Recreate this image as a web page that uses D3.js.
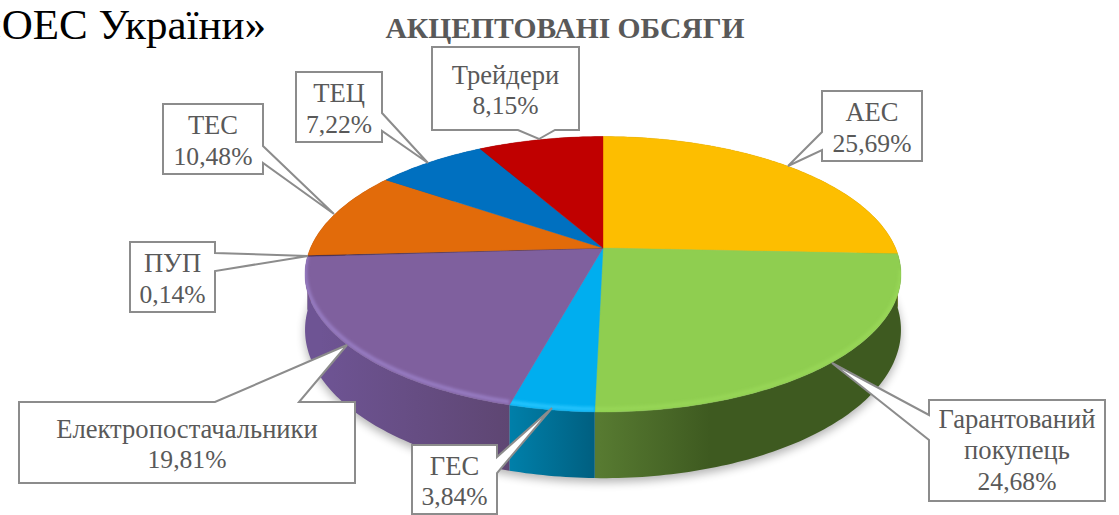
<!DOCTYPE html>
<html><head><meta charset="utf-8">
<script src="https://cdn.jsdelivr.net/npm/d3@7"></script>
<style>html,body{margin:0;padding:0;background:#fff;overflow:hidden}svg{display:block}text{font-family:"Liberation Serif",serif}</style>
</head><body><svg id="c" width="1119" height="515"></svg>
<script>
const categories = ["АЕС","Гарантований покупець","ГЕС","Електропостачальники","ПУП","ТЕС","ТЕЦ","Трейдери"];
const shares = [25.69,24.68,3.84,19.81,0.14,10.48,7.22,8.15];
const valueLabels = ["25,69%","24,68%","3,84%","19,81%","0,14%","10,48%","7,22%","8,15%"];
const labelLines = [["АЕС"],["Гарантований","покупець"],["ГЕС"],["Електропостачальники"],["ПУП"],["ТЕС"],["ТЕЦ"],["Трейдери"]];
const topColors = ["#FDBE00","#8FCE50","#00AEEF","#7F609E","#3b2a55","#E26B0A","#0070C0","#C00000"];
const wallStops = [["#a67c00","#a67c00"],["#577a31","#3e5a20"],["#007fa9","#005f80"],["#5e4672","#6e5494"],["#3b2a55","#3b2a55"],["#8a4106","#8a4106"],["#004a80","#004a80"],["#7a0000","#7a0000"]];
const rimColors = ["#ffd040","#a2e160","#28c6ff","#9a80c6",null,null,null,null];
const rimOpacity = [1,0.45,0.9,0.9,0,0,0,0];
const wallX = [[600,900],[600,710],[511,595],[511,320],[300,310],[300,400],[400,500],[500,600]];
const wallOrder = [7,6,5,4,0,1,2,3];
// callout layout: box [x0,y0,x1,y1], side of the pointer, neck a,b, tip
const callouts = [
 {box:[822,91,922,161],side:"left",neck:[150,132],tip:[788,166]},
 {box:[929,400,1105,501],side:"left",neck:[440,415],tip:[832,363]},
 {box:[412,445,497,514],side:"right",neck:[457,473],tip:[552,408]},
 {box:[19,402,355,483],side:"top",neck:[215,299],tip:[347,345]},
 {box:[130,242,215,312],side:"right",neck:[253,271],tip:[308,256]},
 {box:[163,104,263,174],side:"right",neck:[146,163],tip:[334,214]},
 {box:[296,72,382,142],side:"right",neck:[113,131],tip:[428,163]},
 {box:[432,47,579,130],side:"bottom",neck:[555,518],tip:[539,139]}
];

const svg = d3.select("#c");
const defs = svg.append("defs");
const persp = 0.1906, depth = 53.6;
const xS = d3.scaleLinear().domain([-1,1]).range([603-292.5,603+292.5]);
const yS = d3.scaleLinear().domain([0,1]).range([248,248+132.7]);
const proj = (ang,r,drop=0)=>{
  const u=r*Math.sin(ang), v=-r*Math.cos(ang), p=1/(1-persp*v);
  return [xS(u*p), yS(v*p)+drop*p];
};
const line = d3.line();
const arcs = d3.pie().sort(null).startAngle(0).endAngle(2*Math.PI)(shares);
const rim = (a,drop=0)=>{
  const n=Math.max(2,Math.ceil((a.endAngle-a.startAngle)*60));
  return d3.range(n+1).map(i=>proj(a.startAngle+(a.endAngle-a.startAngle)*i/n,1,drop));
};
defs.append("filter").attr("id","sh").attr("x","-10%").attr("y","-10%").attr("width","120%").attr("height","130%")
  .append("feGaussianBlur").attr("stdDeviation",5);
defs.append("filter").attr("id","bv").attr("filterUnits","userSpaceOnUse").attr("x",0).attr("y",0).attr("width",1119).attr("height",515)
  .append("feGaussianBlur").attr("stdDeviation",1.5);

// soft shadow below the disc
const full = {startAngle:0,endAngle:2*Math.PI};
svg.append("path").attr("d",line(rim(full,depth))+"Z").attr("fill","#000").attr("opacity",.3)
  .attr("transform","translate(0,4)").attr("filter","url(#sh)");

const g = svg.append("g");
// walls
wallOrder.forEach(i=>{
  const a=arcs[i], id="w"+i;
  const gr=defs.append("linearGradient").attr("id",id).attr("gradientUnits","userSpaceOnUse")
    .attr("x1",wallX[i][0]).attr("x2",wallX[i][1]).attr("y1",0).attr("y2",0);
  gr.append("stop").attr("offset",0).attr("stop-color",wallStops[i][0]);
  gr.append("stop").attr("offset",1).attr("stop-color",wallStops[i][1]);
  const t=rim(a), b=rim(a,depth).reverse();
  g.append("path").attr("d",line(t.concat(b))+"Z").attr("fill",`url(#${id})`);
});
// top faces
arcs.forEach((a,i)=>{
  const pts=[proj(0,0)].concat(rim(a));
  const d=line(pts)+"Z";
  g.append("path").attr("d",d).attr("fill",topColors[i]).attr("stroke",topColors[i]).attr("stroke-width",.4);
  if(rimColors[i]){
    const cid="t"+i;
    defs.append("clipPath").attr("id",cid).append("path").attr("d",d);
    const front={startAngle:Math.max(a.startAngle,Math.PI/2+.18),endAngle:a.endAngle};
    if(front.endAngle>front.startAngle){
      const cg=g.append("g").attr("clip-path",`url(#${cid})`);
      cg.append("path").attr("d",line(rim(front))).attr("fill","none").attr("stroke",rimColors[i])
        .attr("stroke-width",4).attr("stroke-opacity",rimOpacity[i]).attr("filter","url(#bv)").attr("transform","translate(0,-3)");
    }
  }
});
// callouts
const calloutPath=(c)=>{
  const [x0,y0,x1,y1]=c.box,[a,b]=c.neck,t=c.tip;
  let p;
  if(c.side==="left") p=[[x0,y0],[x1,y0],[x1,y1],[x0,y1],[x0,a],t,[x0,b]];
  if(c.side==="right") p=[[x0,y0],[x1,y0],[x1,a],t,[x1,b],[x1,y1],[x0,y1]];
  if(c.side==="top") p=[[x0,y0],[a,y0],t,[b,y0],[x1,y0],[x1,y1],[x0,y1]];
  if(c.side==="bottom") p=[[x0,y0],[x1,y0],[x1,y1],[a,y1],t,[b,y1],[x0,y1]];
  return line(p)+"Z";
};
const lab = svg.append("g");
lab.selectAll("path").data(callouts).join("path").attr("d",calloutPath)
  .attr("fill","#fff").attr("stroke","#8c8c8c").attr("stroke-width",2).attr("stroke-linejoin","miter");
callouts.forEach((c,i)=>{
  const names=labelLines[i], lines=names.concat(valueLabels[i]);
  const lh=30.6, mid=(c.box[1]+c.box[3])/2, cx=(c.box[0]+c.box[2])/2;
  const off=lines.length===3?8.5:10.3;
  lines.forEach((s,k)=>{
    lab.append("text").attr("x",cx).attr("y",mid+(k-(lines.length-1)/2)*lh+off)
      .attr("text-anchor","middle").attr("font-size",k<names.length?26.6:25.6).attr("fill","#595959").text(s);
  });
});
// titles
svg.append("text").attr("x",565).attr("y",37.5).attr("text-anchor","middle").attr("font-weight","bold")
  .attr("font-size",29.6).attr("fill","#595959").text("АКЦЕПТОВАНІ ОБСЯГИ");
svg.append("text").attr("x",266).attr("y",39).attr("text-anchor","end").attr("font-size",43)
  .attr("fill","#000").text("«ОЕС України»");
</script></body></html>
